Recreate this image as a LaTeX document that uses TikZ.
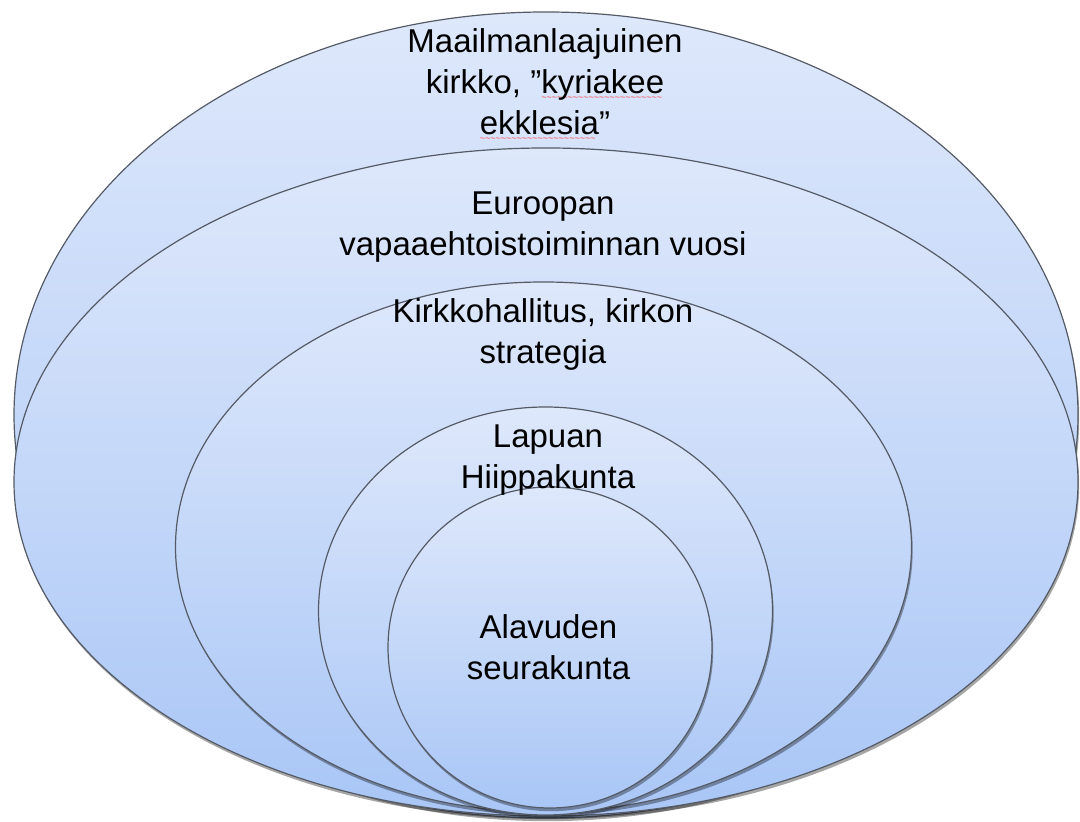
\documentclass[tikz,border=0pt]{standalone}
\usepackage{fontspec}
\setmainfont{Liberation Sans}
\usetikzlibrary{shadows}

\definecolor{ringtop}{HTML}{DEE8FB}
\definecolor{ringbot}{HTML}{A9C6F6}
\definecolor{ringline}{HTML}{555B66}

% red wavy spell-check underline
\newsavebox\spellbox
\newcommand\spellmark[1]{\sbox\spellbox{#1}\rlap{\textcolor{red!75}{\raisebox{-3.6pt}{\hbox to \wd\spellbox{\leaders\hbox{\fontsize{4.5}{4.5}\selectfont\char`\~}\hfill}}}}#1}

\tikzset{
  ring/.style={draw=ringline, line width=0.6pt, top color=ringtop, bottom color=ringbot,
    drop shadow={shadow xshift=0.6pt, shadow yshift=-1.6pt, opacity=0.35, fill=black}},
  lbl/.style={align=center, inner sep=0pt, font=\fontsize{16.5}{20.5}\selectfont}
}

\begin{document}
\begin{tikzpicture}[x=0.5pt, y=0.5pt]
	\useasboundingbox (0,0) rectangle (1080,822);
	% nested rings, outermost first
	\draw[ring] (546,407) ellipse [x radius=532, y radius=403];
	\draw[ring] (546,340) ellipse [x radius=532, y radius=334];
	\draw[ring] (543.5,275) ellipse [x radius=368, y radius=265];
	\draw[ring] (545.5,211) ellipse [x radius=227, y radius=204];
	\draw[ring] (550,174.5) ellipse [x radius=162, y radius=160.5];
	% labels
	\node[lbl] (world) at (545,737) {Maailmanlaajuinen\\kirkko, ”\spellmark{kyriakee}\\\spellmark{ekklesia}”};
	\node[lbl] (europe) at (543,595) {Euroopan\\vapaaehtoistoiminnan vuosi};
	\node[lbl] (board) at (543,488) {Kirkkohallitus, kirkon\\strategia};
	\node[lbl] (diocese) at (548,362) {Lapuan\\Hiippakunta};
	\node[lbl] (parish) at (548.5,175) {Alavuden\\seurakunta};
\end{tikzpicture}
\end{document}
